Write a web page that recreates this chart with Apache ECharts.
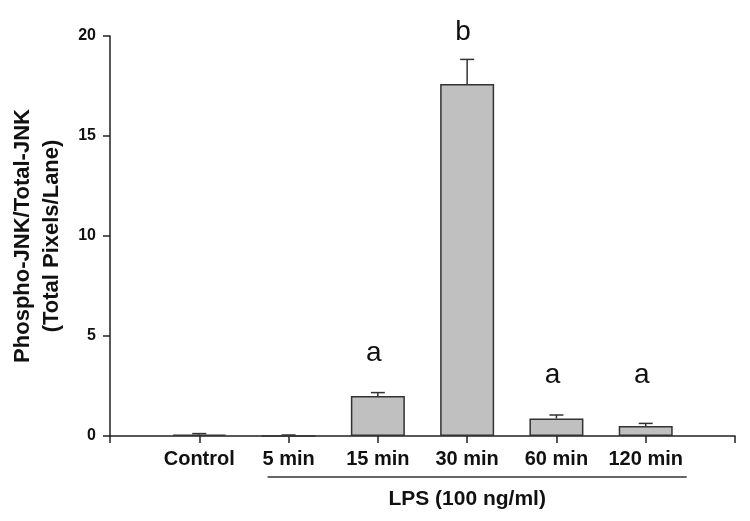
<!DOCTYPE html>
<html>
<head>
<meta charset="utf-8">
<script src="https://cdn.jsdelivr.net/npm/echarts@6/dist/echarts.min.js"></script>
<style>
  html, body { margin: 0; padding: 0; background: #fff; }
  #chart { width: 750px; height: 521px; }
</style>
</head>
<body>
<div id="chart"></div>
<script>
// ---- data ----
const categories = ['', 'Control', '5 min', '15 min', '30 min', '60 min', '120 min', ''];
const groups = ['Control', '5 min', '15 min', '30 min', '60 min', '120 min'];
const means = [0.07, 0.01, 2.0, 17.6, 0.88, 0.5];
const errors = [0.05, 0.04, 0.17, 1.23, 0.17, 0.13];
const letters = ['', '', 'a', 'b', 'a', 'a'];
const letterY = [null, null, 4.15, 20.2, 3.05, 3.05];
const yTicks = [0, 5, 10, 15, 20];
const yTitle = 'Phospho-JNK/Total-JNK\n(Total Pixels/Lane)';
const groupLabel = 'LPS (100 ng/ml)';
const groupFirst = '5 min';
const groupLast = '120 min';

const FONT = 'Arial, "Liberation Sans", sans-serif';
const INK = '#222';

const chart = echarts.init(document.getElementById('chart'), null, { renderer: 'canvas' });

const barData = categories.map(c => {
  const i = groups.indexOf(c);
  return i >= 0 ? means[i] : '-';
});
const errData = groups.map((g, i) => [categories.indexOf(g), means[i], errors[i]]);
const letterData = groups.map((g, i) => [categories.indexOf(g), letterY[i] == null ? '-' : letterY[i]]);

const option = {
  animation: false,
  backgroundColor: '#fff',
  grid: { left: 110, right: 15, top: 36, bottom: 85, containLabel: false, outerBoundsMode: 'none' },
  xAxis: {
    type: 'category',
    data: categories,
    boundaryGap: false,
    axisLine: { lineStyle: { color: INK, width: 1.5 } },
    axisTick: { show: true, length: 7, lineStyle: { color: INK, width: 1.5 } },
    axisLabel: { interval: 0, margin: 13, color: '#111', fontFamily: FONT, fontWeight: 'bold', fontSize: 20 },
    splitLine: { show: false }
  },
  yAxis: {
    type: 'value',
    min: yTicks[0],
    max: yTicks[yTicks.length - 1],
    interval: 5,
    axisLine: { show: true, lineStyle: { color: INK, width: 1.5 } },
    axisTick: { show: true, length: 7, lineStyle: { color: INK, width: 1.5 } },
    axisLabel: { margin: 14, color: '#111', fontFamily: FONT, fontWeight: 'bold', fontSize: 16 },
    splitLine: { show: false },
    name: yTitle,
    nameLocation: 'middle',
    nameRotate: 90,
    nameGap: 44,
    nameTextStyle: { color: '#111', fontFamily: FONT, fontWeight: 'bold', fontSize: 22, lineHeight: 29, align: 'center' }
  },
  series: [
    {
      type: 'bar',
      data: barData,
      barWidth: 54,
      itemStyle: { color: '#c0c0c0', borderColor: '#333', borderWidth: 1.5 },
      z: 2
    },
    {
      type: 'custom',
      data: errData,
      z: 3,
      renderItem: function (params, api) {
        const x = api.value(0), v = api.value(1), e = api.value(2);
        const p0 = api.coord([x, v]);
        const p1 = api.coord([x, v + e]);
        const hw = 7;
        return {
          type: 'group',
          children: [
            { type: 'line', shape: { x1: p0[0], y1: p0[1], x2: p1[0], y2: p1[1] }, style: { stroke: '#333', lineWidth: 1.5 } },
            { type: 'line', shape: { x1: p1[0] - hw, y1: p1[1], x2: p1[0] + hw, y2: p1[1] }, style: { stroke: '#333', lineWidth: 1.5 } }
          ]
        };
      }
    },
    {
      type: 'custom',
      data: letterData,
      z: 4,
      clip: false,
      renderItem: function (params, api) {
        const txt = letters[params.dataIndex];
        if (!txt) return null;
        const p = api.coord([api.value(0), api.value(1)]);
        return {
          type: 'text',
          x: p[0] - 4,
          y: p[1],
          style: { text: txt, fill: '#111', font: '28px ' + FONT, align: 'center', verticalAlign: 'middle' }
        };
      }
    }
  ]
};
chart.setOption(option);

// group bracket under the LPS time points, placed from the axis scale
const xa = chart.convertToPixel({ xAxisIndex: 0 }, groupFirst);
const xb = chart.convertToPixel({ xAxisIndex: 0 }, groupLast);
const y0 = chart.convertToPixel({ yAxisIndex: 0 }, 0);
chart.setOption({
  graphic: [
    { type: 'line', shape: { x1: xa - 21, y1: y0 + 41, x2: xb + 41, y2: y0 + 41 }, style: { stroke: '#333', lineWidth: 1.5 } },
    { type: 'text', x: (xa - 21 + xb + 41) / 2 - 10, y: y0 + 63, style: { text: groupLabel, fill: '#111', font: 'bold 21px ' + FONT, align: 'center', verticalAlign: 'middle' } }
  ]
});
</script>
</body>
</html>
